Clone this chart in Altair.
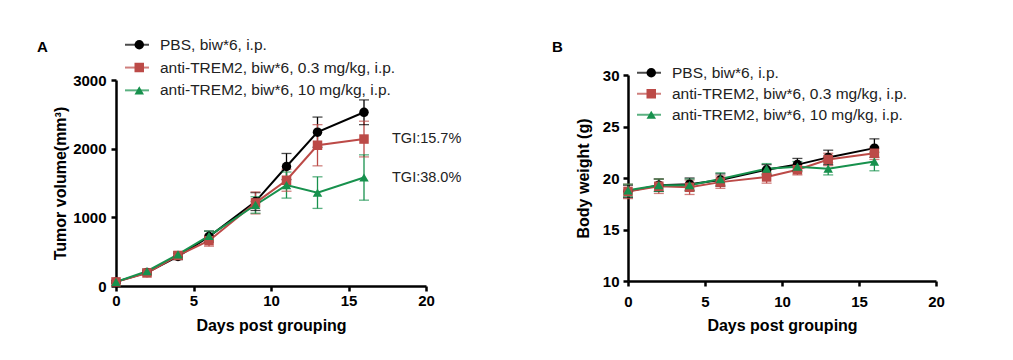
import altair as alt
import pandas as pd

FONT = "Liberation Sans"

days = [0, 2, 4, 6, 9, 11, 13, 16]
groups = ["PBS, biw*6, i.p.",
          "anti-TREM2, biw*6, 0.3 mg/kg, i.p.",
          "anti-TREM2, biw*6, 10 mg/kg, i.p."]
colors = ["#000000", "#BC4A47", "#17914D"]
shapes = ["circle", "square", "triangle-up"]

# Panel A: tumor volume (mm^3), mean and SEM
tv_pbs = [60, 195, 430, 720, 1230, 1740, 2240, 2530]
tv_pbs_err = [20, 30, 45, 80, 130, 190, 220, 180]
tv_low = [60, 190, 445, 660, 1210, 1540, 2050, 2140]
tv_low_err = [20, 30, 40, 80, 160, 160, 300, 260]
tv_high = [60, 215, 460, 730, 1180, 1470, 1360, 1580]
tv_high_err = [20, 30, 40, 70, 120, 190, 230, 330]

# Panel B: body weight (g)
bw_pbs = [18.7, 19.3, 19.4, 19.8, 20.8, 21.3, 22.0, 22.9]
bw_pbs_err = [0.6, 0.6, 0.6, 0.6, 0.5, 0.6, 0.7, 0.9]
bw_low = [18.7, 19.2, 19.1, 19.6, 20.1, 20.8, 21.8, 22.4]
bw_low_err = [0.7, 0.7, 0.7, 0.6, 0.6, 0.5, 0.6, 0.6]
bw_high = [18.8, 19.3, 19.3, 19.9, 20.9, 21.1, 20.9, 21.6]
bw_high_err = [0.6, 0.6, 0.6, 0.6, 0.5, 0.5, 0.6, 0.9]

tgi_labels = ["TGI:15.7%", "TGI:38.0%"]

# marker-legend keys (same names, kept distinct so the two overlaid legends stay separate)
groups2 = [g + " " for g in groups]


def make_df(series, errs):
    rows = []
    for g, g2, vals, es in zip(groups, groups2, series, errs):
        for d, v, e in zip(days, vals, es):
            rows.append({"day": d, "mean": v, "lo": v - e, "hi": v + e,
                         "grp": g, "grp2": g2})
    return pd.DataFrame(rows)


df_a = make_df([tv_pbs, tv_low, tv_high], [tv_pbs_err, tv_low_err, tv_high_err])
df_b = make_df([bw_pbs, bw_low, bw_high], [bw_pbs_err, bw_low_err, bw_high_err])
tgi_df = pd.DataFrame({"day": [16, 16], "val": [tv_low[-1], tv_high[-1]],
                       "label": tgi_labels})

LFS = 15.5


def panel(df, ydom, yvals, ytitle, label, lx, ly, rowpad, labx, laby, w, h, yrange,
          xlabpad, xtitlepad, ylabpad, ytitlepad, tgi=None):
    xscale = alt.Scale(domain=[0, 20], nice=False)
    xenc = alt.X("day:Q", scale=xscale,
                 axis=alt.Axis(values=[0, 5, 10, 15, 20], title="Days post grouping",
                               labelFlush=False, labelPadding=xlabpad,
                               titlePadding=xtitlepad))
    yscale = alt.Scale(domain=ydom, nice=False, range=yrange)
    yaxis = alt.Axis(values=yvals, title=ytitle, format="d", labelFlush=False,
                     labelPadding=ylabpad, titlePadding=ytitlepad)

    def Y(f):
        return alt.Y(f + ":Q", scale=yscale, axis=yaxis, title=ytitle)

    cscale = alt.Scale(domain=groups, range=colors)
    base = alt.Chart(df)

    leg1 = alt.Legend(title=None, orient="none", legendX=lx, legendY=ly,
                      symbolType="stroke", symbolSize=576, symbolStrokeWidth=2,
                      labelFont=FONT, labelFontSize=LFS, labelColor="#222222",
                      labelLimit=0, labelOffset=10, clipHeight=LFS,
                      rowPadding=rowpad, padding=0)
    leg2 = alt.Legend(title=None, orient="none", legendX=lx + 7.5, legendY=ly,
                      symbolSize=90, symbolStrokeWidth=0, symbolOpacity=1,
                      labelFont=FONT, labelFontSize=LFS, labelExpr="''",
                      clipHeight=LFS, rowPadding=rowpad, padding=0)

    lines = base.mark_line(strokeWidth=2).encode(
        x=xenc, y=Y("mean"),
        color=alt.Color("grp:N", scale=cscale, legend=leg1))
    rules = base.mark_rule(strokeWidth=1.3).encode(
        x=xenc, y=Y("lo"), y2="hi:Q",
        color=alt.Color("grp:N", scale=cscale, legend=leg1))
    cap_lo = base.mark_tick(thickness=1.3, size=10, orient="horizontal").encode(
        x=xenc, y=Y("lo"), color=alt.Color("grp:N", scale=cscale, legend=leg1))
    cap_hi = base.mark_tick(thickness=1.3, size=10, orient="horizontal").encode(
        x=xenc, y=Y("hi"), color=alt.Color("grp:N", scale=cscale, legend=leg1))

    points = base.mark_point(filled=True, size=90, opacity=1, strokeWidth=0).encode(
        x=xenc, y=Y("mean"),
        fill=alt.Fill("grp2:N", scale=alt.Scale(domain=groups2, range=colors), legend=leg2),
        shape=alt.Shape("grp2:N", scale=alt.Scale(domain=groups2, range=shapes), legend=leg2))

    lab = alt.Chart(pd.DataFrame({"t": [label]})).mark_text(
        font=FONT, fontSize=15, fontWeight="bold", align="left", baseline="middle",
        color="black").encode(x=alt.value(labx), y=alt.value(laby), text="t:N")
    layers = [lines, rules, cap_lo, cap_hi, points, lab]
    if tgi is not None:
        txt = alt.Chart(tgi).mark_text(font=FONT, fontSize=14.5, align="left",
                                       baseline="middle", dx=28, color="#222222").encode(
            x=alt.X("day:Q", scale=xscale),
            y=alt.Y("val:Q", scale=yscale),
            text="label:N")
        layers.append(txt)
    return alt.layer(*layers).properties(width=w, height=h)


pa = panel(df_a, [0, 3000], [0, 1000, 2000, 3000], "Tumor volume(mm³)", "A",
           lx=8, ly=-38, rowpad=5.8, labx=-79, laby=-28, w=310, h=211, yrange=[211, 5],
           xlabpad=2, xtitlepad=9, ylabpad=5, ytitlepad=4, tgi=tgi_df)
pb = panel(df_b, [10, 30], [10, 15, 20, 25, 30], "Body weight (g)", "B",
           lx=8, ly=-10, rowpad=4, labx=-76, laby=-28, w=308, h=206, yrange=[206, 0],
           xlabpad=8, xtitlepad=8, ylabpad=4, ytitlepad=11)

chart = alt.hconcat(pa, pb, spacing=90).resolve_scale(
    color="independent", fill="independent", shape="independent"
).resolve_legend(
    color="independent", fill="independent", shape="independent"
).properties(
    padding={"left": 29, "top": 29, "right": 5, "bottom": 5}
).configure_view(stroke=None).configure_axis(
    grid=False, domainColor="black", domainWidth=2.5, tickColor="black",
    tickWidth=2.5, tickSize=5, labelFont=FONT, labelFontSize=15,
    labelFontWeight="bold", labelColor="black",
    titleFont=FONT, titleFontSize=16, titleFontWeight="bold", titleColor="black"
)

chart.save("out.html", embed_options={"renderer": "svg", "actions": False})
